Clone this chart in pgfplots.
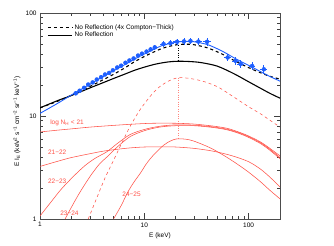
\documentclass[border=0pt]{standalone}
\usepackage{fontspec}
\setmainfont{Liberation Sans}
\usepackage{pgfplots}
\pgfplotsset{compat=1.18}
\definecolor{rd}{RGB}{255,80,70}
\definecolor{bl}{RGB}{30,95,255}
\pgfplotstableread{
x y ex ey
2.2 16.6 0.08 0.7
2.4 17.6 0.09 0.7
2.65 18.8 0.1 0.8
2.9 20.2 0.11 0.8
3.2 21.2 0.12 0.9
3.5 22.6 0.13 0.9
3.85 23.8 0.15 1.0
4.2 25.3 0.16 1.0
4.6 26.2 0.18 1.1
5.0 27.8 0.19 1.1
5.5 29.6 0.21 1.2
6.0 30.8 0.23 1.3
6.6 32.9 0.25 1.4
7.2 34.6 0.28 1.4
7.9 36.2 0.3 1.5
8.7 38.6 0.33 1.6
9.5 40.3 0.36 1.7
10.5 42.2 0.4 1.8
11.5 44.3 0.5 2.0
12.6 46.4 0.6 2.2
15.3 50.0 1.2 3.5
17.8 51.0 1.3 3.5
20.6 52.5 1.6 4.0
24 53.0 1.8 4.0
27.7 53.5 2.2 4.0
33 52.8 2.6 4.0
40 52.5 3.2 4.5
63 37.0 4.5 3.0
75 34.3 5.5 3.0
84 32.0 6.0 3.0
108 30.6 7.5 2.8
140 28.4 10 2.6
}\datatab
\begin{document}
\begin{tikzpicture}
\begin{axis}[name=ax,
  xmode=log, ymode=log, scale only axis,
  width=240bp, height=206bp,
  xmin=1, xmax=200, ymin=1, ymax=100,
  xtick={1,10,100}, xticklabels={1,10,100},
  ytick={1,10,100}, yticklabels={1,10,100},
  tick align=inside, major tick length=6bp, minor tick length=3bp,
  tick style={black!75, line width=0.5pt},
  axis line style={black!70, line width=0.6pt},
  ticklabel style={font=\fontsize{6.5}{7}\selectfont},
  /pgf/number format/assume math mode=true,
  xlabel={E (keV)},
  ylabel={E I\textsubscript{E} (keV\textsuperscript{2} s\textsuperscript{−1} cm\textsuperscript{−2} sr\textsuperscript{−1} keV\textsuperscript{−1})},
  label style={font=\fontsize{6.5}{7}\selectfont},
  xlabel style={at={(axis description cs:0.5,-0.08)}, anchor=center},
  ylabel style={at={(axis description cs:-0.096,0.473)}, anchor=center},
  legend style={draw=none, fill=none, at={(0.03,0.955)}, anchor=north west,
    font=\fontsize{6.5}{7}\selectfont, row sep=-2.5pt, inner sep=0pt,
    legend cell align=left},
  legend image code/.code={\draw[#1] (0cm,0cm) -- (0.85cm,0cm);},
  clip=true,
]
% black dashed
\addplot[black, dashed, line width=1.1pt, smooth] coordinates {
(1,12.0) (1.5,14.0) (2,15.9) (3,19.3) (4,22.4) (5,25.2) (6.5,29.3) (8,33.5) (10,37.8) (12,41.3) (15,45.5) (20,49) (25,49.8) (30,49.2) (40,46) (50,42) (60,38.5) (75,34) (100,29.5) (130,26.3) (160,24.3) (200,22.8)};
\addlegendentry{No Reflection (4x Compton−Thick)}
% black solid
\addplot[black, line width=1.1pt, smooth] coordinates {
(1,12.0) (1.5,14.2) (2,15.8) (3,18.7) (4,21) (5,23) (6.5,25.5) (8,27.7) (10,29.8) (13,32) (17,33.5) (21,34) (27,33.8) (35,33) (50,30.5) (72,25.8) (100,21.5) (130,18.6) (160,16.6) (200,14.9)};
\addlegendentry{No Reflection}
% blue model
\addplot[bl, line width=0.9pt, smooth, forget plot] coordinates {
(1,10.6) (1.5,13.4) (2,16.0) (3,20.3) (4,24) (5,27.3) (6.5,31.5) (8,35.5) (10,40) (12,43.8) (15,48.5) (20,52) (25,53) (30,52.6) (40,49.5) (50,45) (60,41) (75,36) (100,31) (130,27) (160,24.2) (200,21.8)};
% blue data
\addplot[bl, only marks, mark=none, forget plot,
  error bars/.cd, x dir=both, x explicit, y dir=both, y explicit,
  error mark=none, error bar style={bl, line width=0.7pt}]
  table[x=x, y=y, x error=ex, y error=ey] {\datatab};
% dotted verticals
\addplot[black, dotted, line width=0.4pt, forget plot] coordinates {(21,48.5) (21,34)};
\addplot[rd!70, dotted, line width=0.4pt, forget plot] coordinates {(21,23.5) (21,6.0)};
% red dashed reflection
\addplot[rd, dashed, line width=0.55pt, smooth, forget plot] coordinates {
(2.9,1.0) (3.5,1.6) (4.2,2.5) (5,3.6) (6,5.3) (7,7.3) (8,9.3) (9.1,11.5) (10.5,14) (12,16.5) (14,19.2) (17,21.8) (21,23.5) (26,23.3) (35,22) (50,19.3) (72,15.3) (100,12.3) (130,10.5) (160,9.1) (200,7.8)};
% red solid curves
\addplot[rd, line width=0.55pt, smooth, forget plot] coordinates {
(1,7.0) (1.5,7.3) (2,7.5) (3,7.8) (5,8.1) (8,8.35) (12,8.5) (20,8.5) (30,8.35) (45,8.0) (62,7.6) (80,7.0) (100,6.4) (130,5.6) (160,4.85) (200,4.1)};
\addplot[rd, line width=0.55pt, smooth, forget plot] coordinates {
(1,3.24) (1.5,3.65) (2,3.95) (3,4.3) (4,4.55) (5.5,4.75) (7.3,4.9) (10,5.0) (15,5.02) (20,5.0) (30,4.85) (46,4.55) (70,4.1) (100,3.6) (130,3.05) (160,2.55) (200,2.05)};
\addplot[rd, line width=0.55pt, smooth, forget plot] coordinates {
(1,1.07) (1.3,1.5) (1.6,1.95) (2.09,2.59) (2.7,3.3) (3.4,3.9) (4.38,4.5) (5.5,5.4) (7.3,6.6) (10,7.4) (14,7.95) (20,8.2) (30,8.15) (45,7.85) (62,7.45) (80,6.9) (100,6.3) (130,5.5) (160,4.75) (200,3.95)};
\addplot[rd, line width=0.55pt, smooth, forget plot] coordinates {
(1.74,1.0) (2.0,1.3) (2.4,1.8) (3.02,2.59) (3.7,3.4) (4.38,4.0) (5.5,5.0) (7.3,6.3) (10,7.2) (14,7.8) (20,8.05) (30,8.05) (45,7.75) (62,7.35) (80,6.8) (100,6.2) (130,5.4) (160,4.65) (200,3.85)};
\addplot[rd, line width=0.55pt, smooth, forget plot] coordinates {
(5.07,1.0) (6,1.35) (7,1.85) (8,2.3) (9.2,2.8) (10.5,3.45) (12.3,4.2) (15.3,5.2) (18,5.75) (20.6,6.0) (25,5.95) (30,5.7) (43,4.9) (60,4.05) (80,3.35) (100,2.85) (130,2.3) (160,1.9) (200,1.57)};
% labels
\node[rd, anchor=west, font=\fontsize{6.5}{7}\selectfont, inner sep=0pt] at (axis cs:1.25,8.6) {log N\textsubscript{H} < 21};
\node[rd, anchor=west, font=\fontsize{6.5}{7}\selectfont, inner sep=0pt] at (axis cs:1.19,4.43) {21−22};
\node[rd, anchor=west, font=\fontsize{6.5}{7}\selectfont, inner sep=0pt] at (axis cs:1.19,2.32) {22−23};
\node[rd, anchor=west, font=\fontsize{6.5}{7}\selectfont, inner sep=0pt] at (axis cs:1.56,1.13) {23−24};
\node[rd, anchor=west, font=\fontsize{6.5}{7}\selectfont, inner sep=0pt] at (axis cs:6.15,1.72) {24−25};
\end{axis}
\path[use as bounding box] ([xshift=-40bp,yshift=-27bp]ax.south west) rectangle ([xshift=54bp,yshift=13bp]ax.north east);
\end{tikzpicture}
\end{document}
